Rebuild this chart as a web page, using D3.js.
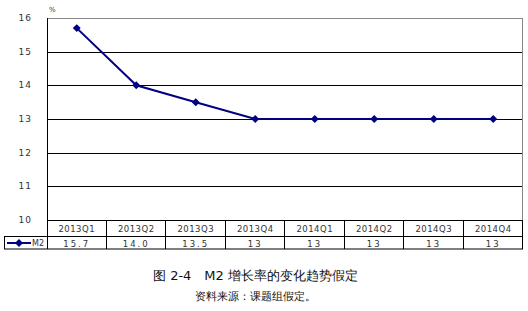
<!DOCTYPE html>
<html>
<head>
<meta charset="utf-8">
<script src="https://cdn.jsdelivr.net/npm/d3@7"></script>
<style>
body { margin: 0; background: #fff; }
text { font-family: "DejaVu Sans", sans-serif; }
</style>
</head>
<body>
<div id="chart"></div>
<script>
var quarters = ["2013Q1", "2013Q2", "2013Q3", "2013Q4", "2014Q1", "2014Q2", "2014Q3", "2014Q4"];
var m2 = [15.7, 14.0, 13.5, 13, 13, 13, 13, 13];
var m2Labels = ["15.7", "14.0", "13.5", "13", "13", "13", "13", "13"];
var yTicks = [10, 11, 12, 13, 14, 15, 16];

var W = 528, H = 311;
var plotLeft = 47, plotRight = 523, plotTop = 18, plotBottom = 220;
var row1 = 236.5, row2 = 249;

var svg = d3.select("#chart").append("svg").attr("width", W).attr("height", H);

var x = d3.scaleBand().domain(quarters).range([plotLeft, plotRight]);
var y = d3.scaleLinear().domain([10, 16]).range([plotBottom, plotTop]);

// grid
svg.selectAll("line.grid").data(yTicks.filter(function(d){ return d > 10 && d < 16; }))
    .enter().append("line")
    .attr("x1", plotLeft).attr("x2", plotRight)
    .attr("y1", function(d){ return Math.round(y(d)) + 0.5; }).attr("y2", function(d){ return Math.round(y(d)) + 0.5; })
    .attr("stroke", "#000").attr("stroke-width", 1);

// frame
svg.append("line").attr("x1", plotLeft).attr("x2", plotRight).attr("y1", plotTop + 0.5).attr("y2", plotTop + 0.5)
    .attr("stroke", "#888");
svg.append("line").attr("x1", plotRight - 0.5).attr("x2", plotRight - 0.5).attr("y1", plotTop).attr("y2", plotBottom)
    .attr("stroke", "#888");
svg.append("line").attr("x1", plotLeft + 0.5).attr("x2", plotLeft + 0.5).attr("y1", plotTop).attr("y2", plotBottom)
    .attr("stroke", "#000");

// y labels
svg.selectAll("text.ytick").data(yTicks).enter().append("text")
    .attr("x", 32).attr("y", function(d){ return y(d) + 3; })
    .attr("text-anchor", "end")
    .attr("font-size", "9px").attr("fill", "#333")
    .attr("letter-spacing", "1px")
    .text(function(d){ return d; });

svg.append("text").attr("x", 49).attr("y", 12).attr("font-size", "7px").attr("fill", "#333").text("%");

// data table
svg.append("line").attr("x1", plotLeft).attr("x2", plotRight).attr("y1", plotBottom + 0.5).attr("y2", plotBottom + 0.5).attr("stroke", "#000");
svg.append("line").attr("x1", 4).attr("x2", plotRight).attr("y1", row1).attr("y2", row1).attr("stroke", "#000");
svg.append("line").attr("x1", 4).attr("x2", plotRight).attr("y1", row2).attr("y2", row2).attr("stroke", "#000");
svg.append("line").attr("x1", 4.5).attr("x2", 4.5).attr("y1", row1).attr("y2", row2).attr("stroke", "#000");

svg.selectAll("line.col").data(quarters).enter().append("line")
    .attr("x1", function(d){ return Math.round(x(d) + x.bandwidth()) - 0.5; })
    .attr("x2", function(d){ return Math.round(x(d) + x.bandwidth()) - 0.5; })
    .attr("y1", plotBottom).attr("y2", row2)
    .attr("stroke", "#000");
svg.append("line").attr("x1", plotLeft + 0.5).attr("x2", plotLeft + 0.5).attr("y1", plotBottom).attr("y2", row2).attr("stroke", "#000");

svg.selectAll("text.cat").data(quarters).enter().append("text")
    .attr("x", function(d){ return x(d) + x.bandwidth() / 2; })
    .attr("y", plotBottom + 11.5)
    .attr("text-anchor", "middle")
    .attr("font-size", "8.5px").attr("fill", "#333")
    .attr("letter-spacing", "0.5px")
    .text(function(d){ return d; });

svg.selectAll("text.val").data(m2Labels).enter().append("text")
    .attr("x", function(d, i){ return x(quarters[i]) + x.bandwidth() / 2; })
    .attr("y", row1 + 10)
    .attr("text-anchor", "middle")
    .attr("font-size", "8.5px").attr("fill", "#333")
    .attr("letter-spacing", "2px")
    .text(function(d){ return d; });

// legend key
var navy = "#000080";
var diamond = d3.symbol().type(d3.symbolDiamond2).size(40);
svg.append("line").attr("x1", 7).attr("x2", 31).attr("y1", 243).attr("y2", 243)
    .attr("stroke", navy).attr("stroke-width", 2);
svg.append("path").attr("d", diamond).attr("transform", "translate(19,243)").attr("fill", navy);
svg.append("text").attr("x", 32).attr("y", 246).attr("font-size", "8px").attr("fill", "#333").text("M2");

// series
var line = d3.line()
    .x(function(d, i){ return x(quarters[i]) + x.bandwidth() / 2; })
    .y(function(d){ return y(d); });

svg.append("path").datum(m2).attr("d", line)
    .attr("fill", "none").attr("stroke", navy).attr("stroke-width", 2);

svg.selectAll("path.pt").data(m2).enter().append("path")
    .attr("d", diamond)
    .attr("transform", function(d, i){ return "translate(" + (x(quarters[i]) + x.bandwidth() / 2) + "," + y(d) + ")"; })
    .attr("fill", navy);

// caption
svg.append("text").attr("x", 153).attr("y", 280)
    .attr("font-family", "'Liberation Serif','Noto Sans CJK SC',serif")
    .attr("font-size", "13px").attr("fill", "#111")
    .text("图 2-4　M2 增长率的变化趋势假定");
svg.append("text").attr("x", 195).attr("y", 300)
    .attr("font-family", "'Noto Sans CJK SC',sans-serif")
    .attr("font-size", "11px").attr("fill", "#111")
    .text("资料来源：课题组假定。");
</script>
</body>
</html>
